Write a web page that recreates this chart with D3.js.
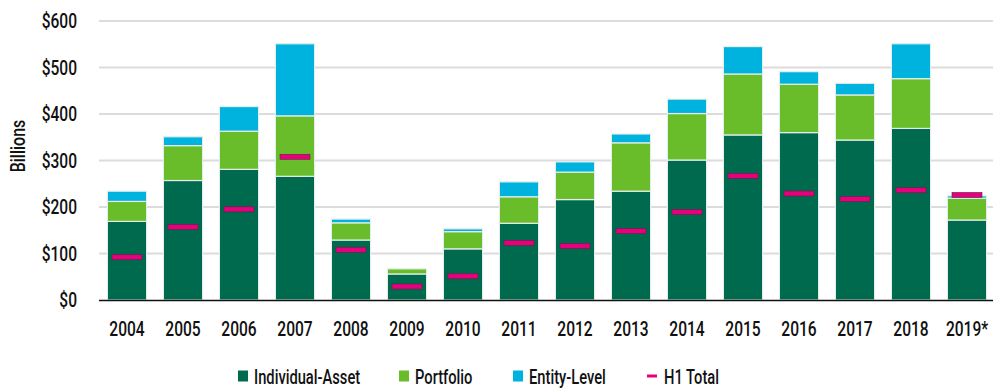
<!DOCTYPE html>
<html><head><meta charset="utf-8">
<script src="https://cdn.jsdelivr.net/npm/d3@7"></script>
<style>
html,body{margin:0;padding:0;background:#fff;}
svg text{font-family:Roboto,"Liberation Sans",sans-serif;font-weight:500;fill:#111;}
</style></head>
<body><svg id="c" width="1000" height="390"></svg>
<script>
const years = ["2004","2005","2006","2007","2008","2009","2010","2011","2012","2013","2014","2015","2016","2017","2018","2019*"];
const individualAsset = [169,257,281,266,129,56,110,165,216,234,301,355,360,344,369,172];
const portfolio       = [43,75,82,130,37,11,37,57,59,104,100,131,104,97,107,47];
const entityLevel     = [22,19,53,155,8,0,6,32,22,19,31,59,27,25,75,5];
const h1Total         = [92,157,195,308,108,29,51,123,116,148,189,267,229,217,236,226];
const yTicks = [0,100,200,300,400,500,600];
const seriesNames = ["Individual-Asset","Portfolio","Entity-Level","H1 Total"];
const colors = {"Individual-Asset":"#006a4e","Portfolio":"#6abd2a","Entity-Level":"#00b2de","H1 Total":"#e6007e"};

// condense text horizontally (reference uses a condensed typeface)
function condense(sel, k){
  sel.each(function(){
    const w = this.getComputedTextLength();
    d3.select(this).attr("textLength", w*k).attr("lengthAdjust","spacingAndGlyphs");
  });
}

const svg = d3.select("#c");
const x = d3.scaleBand().domain(years).range([99,995]).paddingInner(0.3).paddingOuter(0.15);
const y = d3.scaleLinear().domain([0,600]).range([300,21]);

// gridlines
svg.append("g").selectAll("line").data(yTicks.filter(d=>d>0)).join("line")
  .attr("x1",99).attr("x2",993).attr("y1",d=>y(d)).attr("y2",d=>y(d))
  .attr("stroke","#dcdcdc").attr("stroke-width",2);

// y axis labels
const yAxis = d3.axisLeft(y).tickValues(yTicks).tickFormat(d=>"$"+d).tickSize(0).tickPadding(0);
const ga = svg.append("g").attr("transform","translate(77,0)").call(yAxis);
ga.select(".domain").remove();
ga.selectAll("text").attr("font-size",21).attr("font-family",null).attr("fill","#111");
condense(ga.selectAll("text"), 0.74);

const bl = svg.append("text").attr("transform","translate(25,146) rotate(-90)")
  .attr("text-anchor","middle").attr("font-size",20).text("Billions");
condense(bl, 0.8);

// stacked data
const rows = years.map((yr,i)=>({year:yr,"Individual-Asset":individualAsset[i],"Portfolio":portfolio[i],"Entity-Level":entityLevel[i]}));
const stack = d3.stack().keys(seriesNames.slice(0,3))(rows);

svg.append("g").selectAll("g").data(stack).join("g")
  .attr("fill",d=>colors[d.key])
  .selectAll("rect").data(d=>d.filter(p=>p[1]-p[0]>0)).join("rect")
  .attr("x",d=>x(d.data.year)).attr("width",x.bandwidth())
  .attr("y",d=>y(d[1])).attr("height",d=>y(d[0])-y(d[1]))
  .attr("stroke","#e4eeea").attr("stroke-width",1.2);

// H1 markers
const mw = 30, mh = 5;
svg.append("g").selectAll("rect").data(years).join("rect")
  .attr("x",(d)=>x(d)+x.bandwidth()/2-mw/2).attr("width",mw)
  .attr("y",(d,i)=>y(h1Total[i])-mh/2).attr("height",mh)
  .attr("fill",colors["H1 Total"]).attr("stroke","#6b1d45").attr("stroke-width",0.6);

// x axis
svg.append("line").attr("x1",99).attr("x2",993).attr("y1",y(0)+0.5).attr("y2",y(0)+0.5)
  .attr("stroke","#111").attr("stroke-width",1.5);
const xAxis = d3.axisBottom(x).tickSize(0).tickPadding(0);
const gx = svg.append("g").attr("transform","translate(0,321)").call(xAxis);
gx.select(".domain").remove();
gx.selectAll("text").attr("font-size",21).attr("font-family",null).attr("fill","#111").attr("dy","0.71em");
condense(gx.selectAll("text"), 0.74);

// legend
const legendX = [238,399,513,647];
const lg = svg.append("g");
seriesNames.forEach((name,i)=>{
  const g = lg.append("g").attr("transform",`translate(${legendX[i]},376)`);
  if(name==="H1 Total"){
    g.append("rect").attr("x",0).attr("y",-1.5).attr("width",10).attr("height",3).attr("fill",colors[name]);
  } else {
    g.append("rect").attr("x",0).attr("y",-5.5).attr("width",10).attr("height",11).attr("fill",colors[name]);
  }
  const t = g.append("text").attr("x",name==="H1 Total"?17:16).attr("y",0).attr("dy","0.36em")
    .attr("font-size",21).text(name);
  condense(t, 0.7);
});
</script></body></html>
